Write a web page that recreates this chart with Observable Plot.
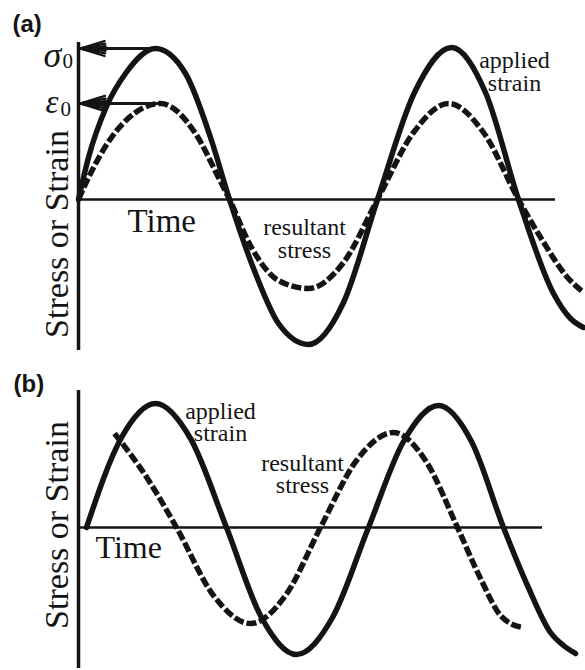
<!DOCTYPE html>
<html><head><meta charset="utf-8">
<script src="https://cdn.jsdelivr.net/npm/d3@7"></script>
<script src="https://cdn.jsdelivr.net/npm/@observablehq/plot@0.6"></script>
<style>body{margin:0;background:#fff} svg{display:block}</style>
</head><body><div id="chart"></div>
<script>
// ---- Panel (a): elastic response, stress and strain in phase ----
const aStrainTime = [0, 10, 28, 47, 77, 107, 133, 151, 177, 200, 230, 265, 299, 336, 373, 407, 440, 475, 492, 505];
const aStrain     = [0, 42, 93, 126, 151, 126, 59, 0, -74, -124, -145, -103, 0, 107, 152, 107, 0, -94, -119, -128];
const aStressTime = [0, 10, 33, 57, 82, 117, 140, 151, 173, 200, 230, 265, 299, 335, 370, 405, 440, 464, 489, 505];
const aStress     = [0, 22, 62, 87, 96, 66, 22, 0, -48, -81, -89, -63, 0, 67, 96, 67, 0, -41, -78, -93];
// ---- Panel (b): viscoelastic response, stress leads strain ----
const bStrainTime = [8, 43, 77, 112, 148, 183, 218, 254, 290, 325, 360, 393, 425, 449, 472, 485, 497];
const bStrain     = [0, 90, 124, 89, 0, -90, -127, -90, 0, 86, 122, 86, 0, -58, -105, -118, -126];
const bStressTime = [36, 67, 98, 135, 172, 207, 242, 278, 315, 347, 379, 402, 422, 434, 444];
const bStress     = [94, 52, 0, -68, -96, -68, 0, 67, 95, 67, 0, -51, -88, -97, -100];
// ---- labels ----
const panelLabels = ["(a)", "(b)"];
const amplitudeSymbols = ["σ", "ε"];
const subscriptLabel = "0";
const timeLabel = "Time";
const valueLabel = "Stress or Strain";
const strainLabel = "applied\nstrain";
const stressLabel = "resultant\nstress";
const timeAxisEnd = [477, 464];

const ink = "#141414";
const serif = "'Liberation Serif','Times New Roman',serif";
const sans = "'Liberation Sans',Arial,sans-serif";
const series = (ts, vs) => ts.map((t, i) => ({t, v: vs[i]}));
const txt = (label, opts) => Plot.text([label], {text: d => d, fill: ink, lineAnchor: "bottom", fontFamily: serif, ...opts});

function curves(strainT, strain, stressT, stress) {
  return [
    Plot.line(series(strainT, strain), {x: "t", y: "v", curve: "monotone-x", stroke: ink, strokeWidth: 5.5}),
    Plot.line(series(stressT, stress), {x: "t", y: "v", curve: "monotone-x", stroke: ink, strokeWidth: 5.5,
      strokeDasharray: "10,3", strokeLinecap: "butt"})
  ];
}

// arrows from the first peaks to the value axis
const arrowData = [
  {x1: aStrainTime[4], y: aStrain[4]},
  {x1: aStressTime[4], y: aStress[4]}
];
const arrowMarks = [34, 22, 10].map(a => Plot.arrow(arrowData, {
  x1: "x1", y1: "y", x2: 0, y2: "y", stroke: ink, strokeWidth: 2.3,
  headAngle: a, headLength: 17, insetEnd: 1.5
}));

const plotA = Plot.plot({
  width: 585, height: 360, marginLeft: 78, marginRight: 0, marginTop: 42, marginBottom: 10,
  x: {domain: [0, 507], axis: null},
  y: {domain: [-151, 157], axis: null},
  marks: [
    Plot.ruleX([0], {stroke: ink, strokeWidth: 3.5}),
    Plot.ruleY([0], {x1: 0, x2: timeAxisEnd[0], stroke: ink, strokeWidth: 2.5}),
    ...curves(aStrainTime, aStrain, aStressTime, aStress),
    ...arrowMarks,
    txt(panelLabels[0], {x: -66, y: 168, textAnchor: "start", fontFamily: sans, fontWeight: "bold", fontSize: 24}),
    txt(amplitudeSymbols[0], {x: -35, y: 133, textAnchor: "start", fontStyle: "italic", fontSize: 36}),
    txt(subscriptLabel, {x: -16, y: 132, textAnchor: "start", fontSize: 21}),
    txt(amplitudeSymbols[1], {x: -33, y: 87, textAnchor: "start", fontStyle: "italic", fontSize: 33}),
    txt(subscriptLabel, {x: -18, y: 84, textAnchor: "start", fontSize: 21}),
    txt(timeLabel, {x: 49, y: -32, textAnchor: "start", fontSize: 33}),
    txt(valueLabel, {x: -11, y: -34.5, textAnchor: "middle", rotate: -90, fontSize: 34}),
    txt(strainLabel, {x: 436, y: 109, textAnchor: "middle", fontSize: 24, lineHeight: 0.92}),
    txt(stressLabel, {x: 226, y: -58, textAnchor: "middle", fontSize: 24, lineHeight: 0.92})
  ]
});

const plotB = Plot.plot({
  width: 585, height: 310, marginLeft: 78, marginRight: 0, marginTop: 30, marginBottom: 2,
  x: {domain: [0, 507], axis: null},
  y: {domain: [-141, 137], axis: null},
  marks: [
    Plot.ruleX([0], {stroke: ink, strokeWidth: 3.5}),
    Plot.ruleY([0], {x1: 0, x2: timeAxisEnd[1], stroke: ink, strokeWidth: 2.5}),
    ...curves(bStrainTime, bStrain, bStressTime, bStress),
    txt(panelLabels[1], {x: -65, y: 136, textAnchor: "start", fontFamily: sans, fontWeight: "bold", fontSize: 24}),
    txt(timeLabel, {x: 17, y: -30, textAnchor: "start", fontSize: 32}),
    txt(valueLabel, {x: -11, y: 2.5, textAnchor: "middle", rotate: -90, fontSize: 34}),
    txt(strainLabel, {x: 142, y: 87, textAnchor: "middle", fontSize: 24, lineHeight: 0.9}),
    txt(stressLabel, {x: 224, y: 35, textAnchor: "middle", fontSize: 24, lineHeight: 0.88})
  ]
});

const root = document.getElementById("chart");
root.appendChild(plotA);
root.appendChild(plotB);
</script>
</body></html>
